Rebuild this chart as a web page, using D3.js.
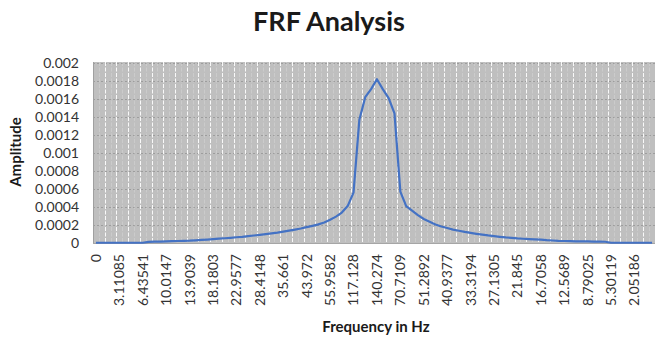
<!doctype html>
<meta charset="utf-8">
<script src="https://cdnjs.cloudflare.com/ajax/libs/d3/7.8.5/d3.min.js"></script>
<style>
body { margin: 0; background: #fff; }
text { font-family: Lato, "Open Sans", sans-serif; }
</style>
<body>
<script>

// frequency labels shown on the axis (every 4th point)
var freqLabels = ["0", "3.11085", "6.43541", "10.0147", "13.9039", "18.1803",
  "22.9577", "28.4148", "35.661", "43.972", "55.9582", "117.128", "140.274",
  "70.7109", "51.2892", "40.9377", "33.3194", "27.1305", "21.845", "16.7058",
  "12.5689", "8.79025", "5.30119", "2.05186"];
var labelStep = 4;

// amplitude per point
var amplitude = [
  0.000003, 0.000003, 0.000003, 0.000003, 0.000003, 0.000003, 0.000003, 0.000003,
  0.000003, 0.000013, 0.000015, 0.000016, 0.000018, 0.000020, 0.000022, 0.000024,
  0.000026, 0.000030, 0.000034, 0.000038, 0.000043, 0.000048, 0.000053, 0.000058,
  0.000064, 0.000069, 0.000076, 0.000083, 0.000091, 0.000098, 0.000106, 0.000115,
  0.000126, 0.000137, 0.000149, 0.000161, 0.000176, 0.000191, 0.000207, 0.000228,
  0.000258, 0.000293, 0.000338, 0.000410, 0.000560, 0.00137, 0.00162, 0.00171,
  0.00182, 0.00171, 0.00161, 0.00144, 0.00057, 0.00041, 0.00036, 0.00031,
  0.000267, 0.000237, 0.000206, 0.000183, 0.000167, 0.000149, 0.000136, 0.000123,
  0.000112, 0.000102, 0.000093, 0.000084, 0.000077, 0.000069, 0.000062, 0.000057,
  0.000051, 0.000047, 0.000043, 0.000040, 0.000037, 0.000031, 0.000028, 0.000024,
  0.000022, 0.000020, 0.000019, 0.000018, 0.000017, 0.000016, 0.000015, 0.000014,
  0.000003, 0.000003, 0.000003, 0.000003, 0.000003, 0.000003, 0.000003, 0.000003
];

var yTickValues = [0, 0.0002, 0.0004, 0.0006, 0.0008, 0.001, 0.0012, 0.0014, 0.0016, 0.0018, 0.002];

var W = 655, H = 337;
var plot = {left: 93, right: 655, top: 63, bottom: 243};

var svg = d3.select("body").append("svg")
    .attr("width", W)
    .attr("height", H);

var x = d3.scaleBand()
    .domain(d3.range(amplitude.length))
    .range([plot.left, plot.right]);
var y = d3.scaleLinear()
    .domain([0, 0.002])
    .range([plot.bottom, plot.top]);

// grey plot area
svg.append("rect")
    .attr("x", plot.left)
    .attr("y", plot.top - 1)
    .attr("width", plot.right - plot.left)
    .attr("height", plot.bottom - plot.top + 1)
    .attr("fill", "#bfbfbf");

// horizontal gridlines
svg.append("g")
  .selectAll("line")
  .data(yTickValues.slice(1))
  .enter().append("line")
    .attr("x1", plot.left).attr("x2", plot.right)
    .attr("y1", function(d) { return Math.round(y(d)) + 0.5; })
    .attr("y2", function(d) { return Math.round(y(d)) + 0.5; })
    .attr("stroke", "#8f8f8f")
    .attr("stroke-opacity", 0.7)
    .attr("stroke-dasharray", "2,2");

// vertical dashed white gridlines at the category boundaries
svg.append("g")
  .selectAll("line")
  .data(d3.range(1, amplitude.length))
  .enter().append("line")
    .attr("x1", function(d) { return Math.round(x(d)) + 0.5; })
    .attr("x2", function(d) { return Math.round(x(d)) + 0.5; })
    .attr("y1", plot.top - 1).attr("y2", plot.bottom)
    .attr("stroke", "#fff")
    .attr("stroke-opacity", function(d) { return d % 2 ? 0.2 : 0.9; })
    .attr("stroke-dasharray", "4,1.5");

// left edge and bottom axis
svg.append("line")
    .attr("x1", plot.left + 0.5).attr("x2", plot.left + 0.5)
    .attr("y1", plot.top - 1).attr("y2", plot.bottom)
    .attr("stroke", "#a0a0a0");
svg.append("line")
    .attr("x1", plot.left).attr("x2", plot.right)
    .attr("y1", plot.bottom + 0.5).attr("y2", plot.bottom + 0.5)
    .attr("stroke", "#a6a6a6");

// the FRF line
var line = d3.line()
    .x(function(d, i) { return x(i) + x.bandwidth() / 2; })
    .y(function(d) { return y(d); });

svg.append("path")
    .datum(amplitude)
    .attr("d", line)
    .attr("fill", "none")
    .attr("stroke", "#4472c4")
    .attr("stroke-width", 2.2)
    .attr("stroke-linejoin", "round");

// y tick labels
svg.append("g")
  .selectAll("text")
  .data(yTickValues)
  .enter().append("text")
    .attr("x", 79)
    .attr("y", function(d) { return y(d); })
    .attr("dy", "0.35em")
    .attr("text-anchor", "end")
    .attr("font-size", 14)
    .attr("fill", "#333")
    .text(function(d) { return String(+d.toFixed(4)); });

// x tick labels, rotated
svg.append("g")
  .selectAll("text")
  .data(freqLabels)
  .enter().append("text")
    .attr("transform", function(d, i) {
      var cx = x(i * labelStep) + x.bandwidth() / 2;
      return "translate(" + cx + "," + 254 + ") rotate(-90)";
    })
    .attr("dy", "0.35em")
    .attr("text-anchor", "end")
    .attr("font-size", 14)
    .attr("fill", "#333")
    .text(function(d) { return d; });

// titles
svg.append("text")
    .attr("x", 329).attr("y", 31)
    .attr("text-anchor", "middle")
    .attr("font-size", 27)
    .attr("font-weight", "bold")
    .attr("fill", "#1a1a1a")
    .text("FRF Analysis");

svg.append("text")
    .attr("x", 376).attr("y", 332)
    .attr("text-anchor", "middle")
    .attr("font-size", 15)
    .attr("font-weight", "bold")
    .attr("fill", "#1a1a1a")
    .text("Frequency in Hz");

svg.append("text")
    .attr("transform", "translate(21,152) rotate(-90)")
    .attr("text-anchor", "middle")
    .attr("font-size", 15)
    .attr("font-weight", "bold")
    .attr("fill", "#1a1a1a")
    .text("Amplitude");

</script>
</body>
